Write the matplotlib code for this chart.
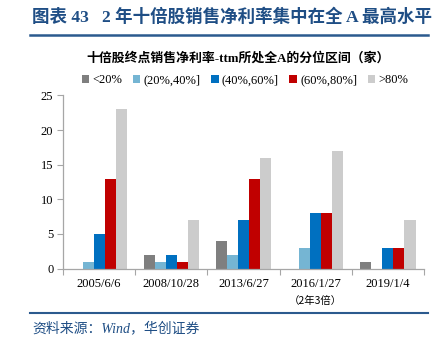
import matplotlib
matplotlib.use("Agg")
import matplotlib.pyplot as plt
import numpy as np

categories = ["2005/6/6", "2008/10/28", "2013/6/27", "2016/1/27", "2019/1/4"]
series_names = ["<20%", "(20%,40%]", "(40%,60%]", "(60%,80%]", ">80%"]
s_lt20 = [0, 2, 4, 0, 1]
s_20_40 = [1, 1, 2, 3, 0]
s_40_60 = [5, 2, 7, 8, 3]
s_60_80 = [13, 1, 13, 8, 3]
s_gt80 = [23, 7, 16, 17, 7]
series = [s_lt20, s_20_40, s_40_60, s_60_80, s_gt80]
colors = ["#7F7F7F", "#75B5D3", "#0070C0", "#C00000", "#CCCCCC"]
yticks = [0, 5, 10, 15, 20, 25]

FAM = ["Liberation Serif", "Noto Sans CJK SC", "DejaVu Sans"]
plt.rcParams['font.family'] = FAM

fig = plt.figure(figsize=(4.42, 3.42), dpi=100)
ax = fig.add_axes([63/442, 1-268.5/342, (424-63)/442, (268.5-95.5)/342])

n = len(categories)
x = np.arange(n)
w = 0.153
for j, (vals, c, name) in enumerate(zip(series, colors, series_names)):
    ax.bar(x + (j - 2) * w + 0.5, vals, width=w, color=c, label=name, linewidth=0)

ax.set_xlim(0, n)
ax.set_ylim(0, 25)
ax.set_yticks(yticks)
ax.set_yticklabels([str(t) for t in yticks], fontsize=9)
ax.set_xticks(np.arange(n + 1))
ax.set_xticklabels([])
ax.set_xticks(x + 0.5, minor=True)
ax.set_xticklabels(categories, minor=True, fontsize=9)
ax.tick_params(axis='x', which='major', length=4, color="#A6A6A6", direction='out')
ax.tick_params(axis='x', which='minor', length=0, pad=7)
ax.tick_params(axis='y', length=4, color="#A6A6A6", direction='out', pad=3)
for s in ["top", "right"]:
    ax.spines[s].set_visible(False)
for s in ["left", "bottom"]:
    ax.spines[s].set_color("#A6A6A6")
    ax.spines[s].set_linewidth(0.9)

# extra label under 2016/1/27
ax.text(3.5, -0.16, "（2年3倍）", transform=ax.get_xaxis_transform(),
        ha='center', va='top', fontsize=7.5, family=["Noto Sans CJK SC", "DejaVu Sans"])

leg = fig.legend(loc='center', bbox_to_anchor=(245/442, 1-80/342), ncol=5, frameon=False,
                 fontsize=9, handlelength=0.6, handleheight=0.6, handletextpad=0.25,
                 columnspacing=0.85, borderaxespad=0)

# Title
fig.text(32/442, 1-17/342, "图表 43   2 年十倍股销售净利率集中在全 A 最高水平", fontsize=12.6,
         fontweight='bold', color="#1F4E85", ha='left', va='center',
         family=FAM)
fig.add_artist(plt.Line2D([30/442, 428/442], [1-35/342, 1-35/342], color="#2B5A8E", lw=1.8,
                          transform=fig.transFigure))
fig.text(238/442, 1-58/342, "十倍股终点销售净利率-ttm所处全A的分位区间（家）", fontsize=9.3,
         fontweight='bold', color="black", ha='center', va='center',
         family=FAM)
fig.add_artist(plt.Line2D([30/442, 428/442], [1-313/342, 1-313/342], color="#2B5A8E", lw=1.5,
                          transform=fig.transFigure))
fig.text(32/442, 1-328/342, "资料来源：Wind，华创证券", fontsize=10, style='italic',
         color="#1F4E85", ha='left', va='center', family=FAM)

fig.savefig("out.png", dpi=100)
